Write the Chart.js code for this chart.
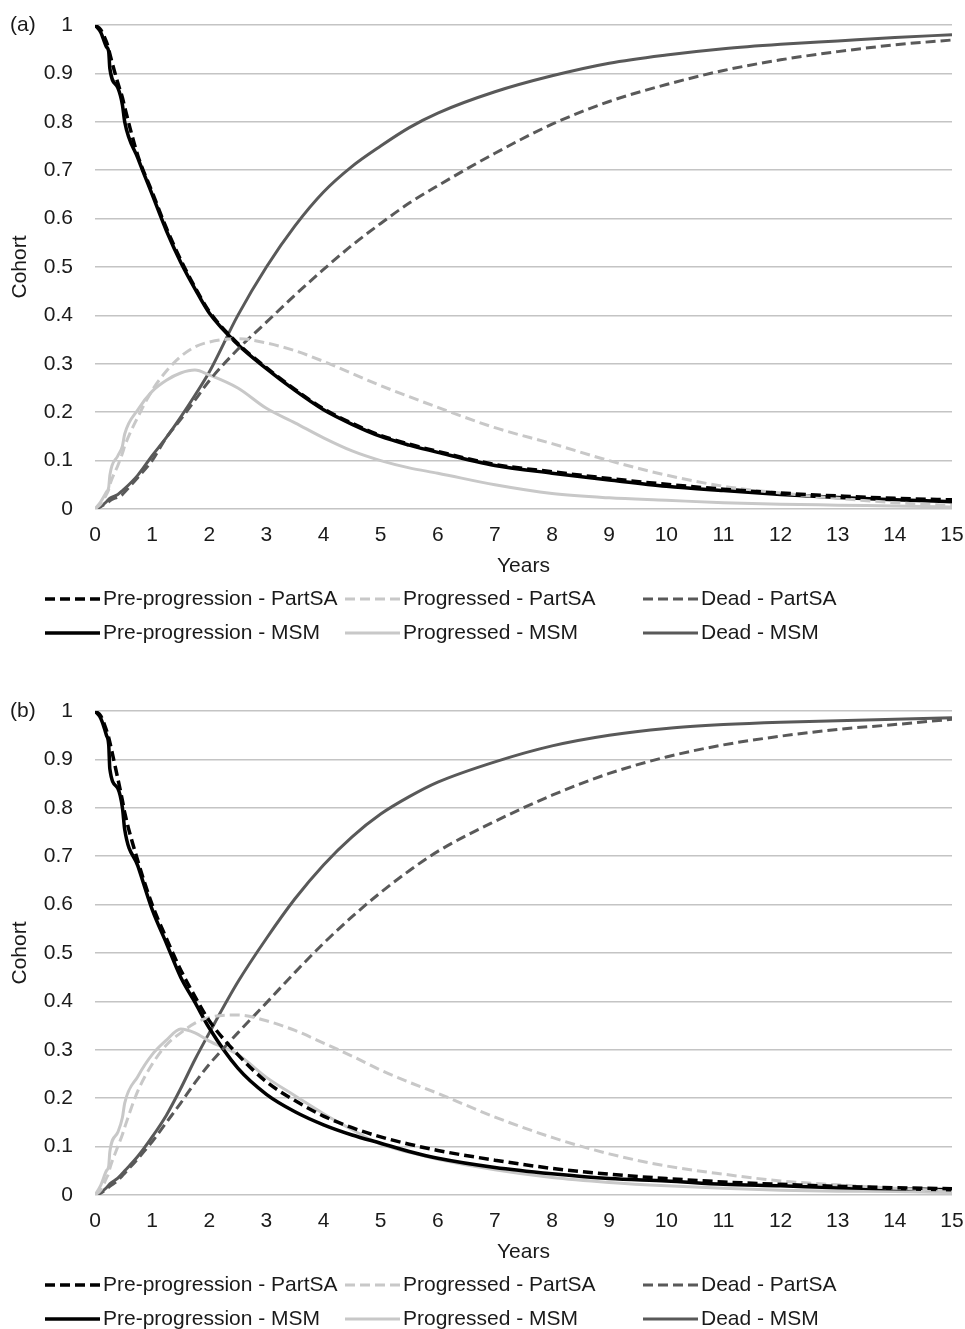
<!DOCTYPE html>
<html>
<head>
<meta charset="utf-8">
<script src="https://cdn.jsdelivr.net/npm/chart.js@4.4.1/dist/chart.umd.min.js"></script>
<style>
  html, body { margin: 0; padding: 0; background: #fff; overflow: hidden; }
  .panel { position: absolute; left: 0; width: 965px; height: 665px; }
</style>
</head>
<body>
<div class="panel" style="top:0px"><canvas id="chartA"></canvas></div>
<div class="panel" style="top:686px"><canvas id="chartB"></canvas></div>
<script>
// time points (years) shared by every series
var years = [0, 0.1, 0.2, 0.24, 0.26, 0.4, 0.48, 0.52, 0.75, 1, 1.25, 1.5, 1.75, 2, 2.5, 3, 3.5, 4, 4.5, 5, 5.5, 6, 7, 8, 9, 10, 11, 12, 13, 14, 15];

// panel (a)
var preMsmA  = [1, 0.985, 0.955, 0.945, 0.91, 0.87, 0.835, 0.8, 0.725, 0.65, 0.575, 0.51, 0.455, 0.405, 0.34, 0.29, 0.245, 0.205, 0.175, 0.15, 0.132, 0.117, 0.09, 0.074, 0.06, 0.047, 0.038, 0.03, 0.024, 0.019, 0.015];
var prePsaA  = [1, 0.99, 0.965, 0.95, 0.94, 0.88, 0.85, 0.83, 0.73, 0.655, 0.58, 0.515, 0.458, 0.408, 0.342, 0.292, 0.247, 0.207, 0.177, 0.152, 0.134, 0.119, 0.092, 0.077, 0.063, 0.051, 0.041, 0.033, 0.027, 0.022, 0.019];
var progMsmA = [0, 0.015, 0.035, 0.045, 0.07, 0.11, 0.13, 0.155, 0.205, 0.243, 0.266, 0.281, 0.287, 0.277, 0.25, 0.208, 0.178, 0.147, 0.12, 0.1, 0.085, 0.074, 0.05, 0.032, 0.023, 0.018, 0.013, 0.01, 0.008, 0.006, 0.004];
var progPsaA = [0, 0.01, 0.03, 0.04, 0.05, 0.09, 0.115, 0.13, 0.19, 0.245, 0.285, 0.315, 0.335, 0.345, 0.352, 0.343, 0.327, 0.305, 0.28, 0.255, 0.232, 0.21, 0.168, 0.135, 0.1, 0.07, 0.047, 0.033, 0.022, 0.013, 0.007];
var deadMsmA = [0, 0.005, 0.015, 0.02, 0.022, 0.03, 0.038, 0.042, 0.07, 0.11, 0.148, 0.19, 0.235, 0.283, 0.4, 0.5, 0.585, 0.655, 0.708, 0.75, 0.788, 0.818, 0.862, 0.895, 0.921, 0.938, 0.951, 0.96, 0.967, 0.974, 0.98];
var deadPsaA = [0, 0.005, 0.012, 0.015, 0.017, 0.025, 0.03, 0.035, 0.065, 0.1, 0.148, 0.185, 0.225, 0.265, 0.33, 0.386, 0.442, 0.495, 0.545, 0.59, 0.632, 0.668, 0.735, 0.795, 0.842, 0.877, 0.906, 0.928, 0.945, 0.959, 0.969];

// panel (b)
var preMsmB  = [1, 0.985, 0.95, 0.93, 0.88, 0.84, 0.8, 0.755, 0.68, 0.59, 0.52, 0.45, 0.398, 0.345, 0.262, 0.208, 0.172, 0.145, 0.124, 0.107, 0.09, 0.076, 0.057, 0.044, 0.034, 0.029, 0.022, 0.019, 0.015, 0.013, 0.011];
var prePsaB  = [1, 0.99, 0.96, 0.945, 0.935, 0.86, 0.815, 0.79, 0.69, 0.6, 0.53, 0.465, 0.41, 0.36, 0.29, 0.234, 0.195, 0.163, 0.139, 0.12, 0.105, 0.092, 0.072, 0.055, 0.043, 0.034, 0.027, 0.022, 0.018, 0.015, 0.013];
var progMsmB = [0, 0.02, 0.05, 0.06, 0.09, 0.13, 0.16, 0.19, 0.245, 0.29, 0.32, 0.343, 0.335, 0.318, 0.29, 0.243, 0.205, 0.168, 0.135, 0.105, 0.088, 0.074, 0.052, 0.036, 0.026, 0.019, 0.014, 0.01, 0.008, 0.007, 0.005];
var progPsaB = [0, 0.01, 0.035, 0.045, 0.055, 0.1, 0.125, 0.14, 0.215, 0.27, 0.31, 0.335, 0.355, 0.367, 0.372, 0.36, 0.34, 0.314, 0.287, 0.258, 0.233, 0.21, 0.161, 0.119, 0.085, 0.06, 0.043, 0.029, 0.021, 0.014, 0.008];
var deadMsmB = [0, 0.005, 0.015, 0.02, 0.023, 0.035, 0.045, 0.05, 0.08, 0.12, 0.165, 0.22, 0.28, 0.335, 0.44, 0.53, 0.612, 0.682, 0.74, 0.787, 0.823, 0.853, 0.895, 0.928, 0.95, 0.964, 0.972, 0.977, 0.98, 0.983, 0.986];
var deadPsaB = [0, 0.004, 0.012, 0.016, 0.018, 0.03, 0.04, 0.045, 0.075, 0.11, 0.15, 0.19, 0.232, 0.27, 0.335, 0.397, 0.46, 0.52, 0.575, 0.625, 0.67, 0.71, 0.772, 0.826, 0.871, 0.905, 0.93, 0.948, 0.962, 0.972, 0.983];

var seriesNames = ['Pre-progression - PartSA', 'Progressed - PartSA', 'Dead - PartSA',
                   'Pre-progression - MSM', 'Progressed - MSM', 'Dead - MSM'];
var seriesColors = ['#000000', '#c8c8c8', '#595959', '#000000', '#c8c8c8', '#595959'];

var FONT = '"Liberation Sans", Arial, sans-serif';
Chart.defaults.font.family = FONT;
Chart.defaults.font.size = 21;
Chart.defaults.color = '#1a1a1a';

function toPoints(vals) {
	return vals.map(function (v, i) { return {x: years[i], y: v}; });
}

// legend laid out in three fixed columns, two rows, like the original
var gridLegend = {
	id: 'gridLegend',
	afterDraw: function (chart, args, opts) {
		var ctx = chart.ctx;
		var colX = [45, 345, 643];
		var rowY = [chart.chartArea.bottom + 90, chart.chartArea.bottom + 124];
		ctx.save();
		ctx.font = '21px ' + FONT;
		ctx.textBaseline = 'middle';
		chart.data.datasets.forEach(function (ds, i) {
			var x = colX[i % 3], y = rowY[Math.floor(i / 3)];
			ctx.beginPath();
			ctx.strokeStyle = ds.borderColor;
			ctx.lineWidth = ds.borderWidth;
			ctx.setLineDash(ds.borderDash || []);
			ctx.moveTo(x, y);
			ctx.lineTo(x + 55, y);
			ctx.stroke();
			ctx.setLineDash([]);
			ctx.fillStyle = '#1a1a1a';
			ctx.fillText(ds.label, x + 58, y);
		});
		// panel tag
		ctx.fillText(opts.tag, 10, chart.chartArea.top);
		ctx.restore();
	}
};

function makeChart(id, tag, data) {
	var datasets = data.map(function (vals, i) {
		var dashed = i < 3;
		return {
			label: seriesNames[i],
			data: toPoints(vals),
			borderColor: seriesColors[i],
			borderWidth: seriesColors[i] === '#000000' ? 3.5 : 3,
			borderDash: dashed ? [10, 5] : [],
			pointRadius: 0,
			fill: false,
			cubicInterpolationMode: 'monotone'
		};
	});
	return new Chart(document.getElementById(id), {
		type: 'line',
		data: { datasets: datasets },
		plugins: [gridLegend],
		options: {
			responsive: false,
			animation: false,
			layout: { padding: { left: 0, right: 13, top: 25, bottom: 86 } },
			plugins: {
				legend: { display: false },
				tooltip: { enabled: false },
				gridLegend: { tag: tag }
			},
			scales: {
				x: {
					type: 'linear',
					min: 0,
					max: 15,
					ticks: { stepSize: 1, padding: 0, maxRotation: 0 },
					grid: { display: false, drawTicks: true, tickLength: 14, tickColor: 'rgba(0,0,0,0)' },
					border: { display: false },
					title: { display: true, text: 'Years', padding: 0 },
					afterFit: function (axis) { axis.height = 70; }
				},
				y: {
					min: 0,
					max: 1,
					ticks: {
						stepSize: 0.1,
						padding: 0,
						callback: function (v) { return String(Number(v.toFixed(1))); }
					},
					grid: { color: '#c4c4c4', lineWidth: 1.5, drawTicks: true, tickLength: 22, tickColor: 'rgba(0,0,0,0)' },
					border: { display: false },
					title: { display: true, text: 'Cohort', padding: { top: 8, bottom: 0 } },
					afterFit: function (axis) { axis.width = 95; }
				}
			}
		}
	});
}

function sizeCanvas(id) {
	var c = document.getElementById(id);
	c.width = 965; c.height = 665;
	c.style.width = '965px'; c.style.height = '665px';
}
sizeCanvas('chartA');
sizeCanvas('chartB');

makeChart('chartA', '(a)', [prePsaA, progPsaA, deadPsaA, preMsmA, progMsmA, deadMsmA]);
makeChart('chartB', '(b)', [prePsaB, progPsaB, deadPsaB, preMsmB, progMsmB, deadMsmB]);
</script>
</body>
</html>
